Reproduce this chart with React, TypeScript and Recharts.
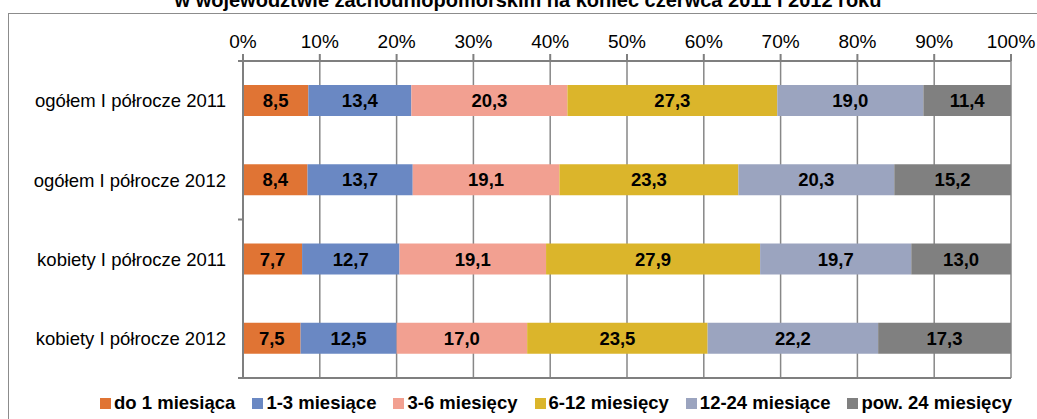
import { BarChart, Bar, XAxis, YAxis, CartesianGrid, Legend, LabelList } from 'recharts';

const categories = [
    'ogółem I półrocze 2011',
    'ogółem I półrocze 2012',
    'kobiety I półrocze 2011',
    'kobiety I półrocze 2012',
];
const do1 = [8.5, 8.4, 7.7, 7.5];
const m1_3 = [13.4, 13.7, 12.7, 12.5];
const m3_6 = [20.3, 19.1, 19.1, 17.0];
const m6_12 = [27.3, 23.3, 27.9, 23.5];
const m12_24 = [19.0, 20.3, 19.7, 22.2];
const pow24 = [11.4, 15.2, 13.0, 17.3];
const pctTicks = [0, 0.1, 0.2, 0.3, 0.4, 0.5, 0.6, 0.7, 0.8, 0.9, 1];

const series = [
    { key: 'do1', name: 'do 1 miesiąca', color: '#E07434' },
    { key: 'm1_3', name: '1-3 miesiące', color: '#6A88C3' },
    { key: 'm3_6', name: '3-6 miesięcy', color: '#F2A091' },
    { key: 'm6_12', name: '6-12 miesięcy', color: '#DBB52B' },
    { key: 'm12_24', name: '12-24 miesiące', color: '#9BA4BF' },
    { key: 'pow24', name: 'pow. 24 miesięcy', color: '#808080' },
];

const data = categories.map((name, i) => ({
    name,
    do1: do1[i],
    m1_3: m1_3[i],
    m3_6: m3_6[i],
    m6_12: m6_12[i],
    m12_24: m12_24[i],
    pow24: pow24[i],
}));

const FONT = '"Liberation Sans", Arial, sans-serif';
const AXIS = '#7f7f7f';

function CategoryTick(props: any) {
    const { x, y, payload, index } = props;
    const ax = x + 17;
    const off = payload && payload.offset ? payload.offset : 38.75;
    return (
        <g>
            <text x={x} y={y} dy="0.36em" textAnchor="end" fontSize={18.5} fill="#000" fontFamily={FONT}>
                {payload.value}
            </text>
            {index === 0 && <line x1={ax - 5} x2={ax} y1={y - off} y2={y - off} stroke={AXIS} strokeWidth={2} />}
            {(index === 1 || index === 3) && (
                <line x1={ax - 5} x2={ax} y1={y + off} y2={y + off} stroke={AXIS} strokeWidth={2} />
            )}
        </g>
    );
}

function LegendContent() {
    return (
        <div
            style={{
                display: 'flex', justifyContent: 'center', whiteSpace: 'nowrap',
                paddingTop: 14, paddingLeft: 110, fontFamily: FONT, height: 20,
            }}
        >
            {series.map((s) => (
                <div key={s.key} style={{ display: 'flex', alignItems: 'center', marginRight: 17, flexShrink: 0 }}>
                    <span style={{ width: 11, height: 11, background: s.color, marginRight: 3, display: 'inline-block' }} />
                    <span style={{ fontSize: 18.5, fontWeight: 'bold', color: '#000', lineHeight: '20px' }}>{s.name}</span>
                </div>
            ))}
        </div>
    );
}

export default function App() {
    return (
        <div style={{ position: 'fixed', left: 0, top: 0, width: 1037, height: 419, overflow: 'hidden', background: '#fff' }}>
            <div style={{ position: 'absolute', left: 8, top: 13, width: 1040, height: 420, border: '1px solid #8c8c8c' }} />
            <div
                style={{
                    position: 'absolute', left: 0, top: -10, width: 1056, textAlign: 'center',
                    fontFamily: FONT, fontWeight: 'bold', fontSize: 20, lineHeight: '20px', color: '#000',
                }}
            >
                w województwie zachodniopomorskim na koniec czerwca 2011 i 2012 roku
            </div>
            <div style={{ position: 'absolute', left: 0, top: 0 }}>
                <BarChart
                    width={1037}
                    height={419}
                    data={data}
                    layout="vertical"
                    stackOffset="expand"
                    barSize={31}
                    margin={{ top: 0, right: 26, bottom: 6, left: 8 }}
                >
                    <CartesianGrid horizontal={false} stroke="#878787" strokeWidth={1.5} />
                    <XAxis
                        type="number"
                        orientation="top"
                        domain={[0, 1]}
                        ticks={pctTicks}
                        height={61}
                        tickSize={7}
                        tickMargin={6}
                        tickFormatter={(v: number) => Math.round(v * 100) + '%'}
                        tick={{ fontSize: 19, fill: '#000', fontFamily: FONT }}
                        stroke={AXIS}
                        strokeWidth={2}
                        interval={0}
                    />
                    <XAxis
                        xAxisId="b"
                        type="number"
                        orientation="bottom"
                        domain={[0, 1]}
                        height={1}
                        tick={false}
                        tickLine={false}
                        stroke={AXIS}
                        strokeWidth={2}
                    />
                    <YAxis
                        type="category"
                        dataKey="name"
                        width={235}
                        tickSize={5}
                        tickMargin={12}
                        tickLine={false}
                        tick={<CategoryTick />}
                        stroke={AXIS}
                        strokeWidth={2}
                        interval={0}
                    />
                    <Legend verticalAlign="bottom" content={<LegendContent />} />
                    {series.map((s) => (
                        <Bar key={s.key} dataKey={s.key} name={s.name} stackId="a" fill={s.color} isAnimationActive={false}>
                            <LabelList
                                dataKey={s.key}
                                position="center"
                                fill="#000"
                                fontSize={18.5}
                                fontWeight="bold"
                                fontFamily={FONT}
                                formatter={(v: any) => Number(v).toFixed(1).replace('.', ',')}
                            />
                        </Bar>
                    ))}
                </BarChart>
            </div>
        </div>
    );
}
